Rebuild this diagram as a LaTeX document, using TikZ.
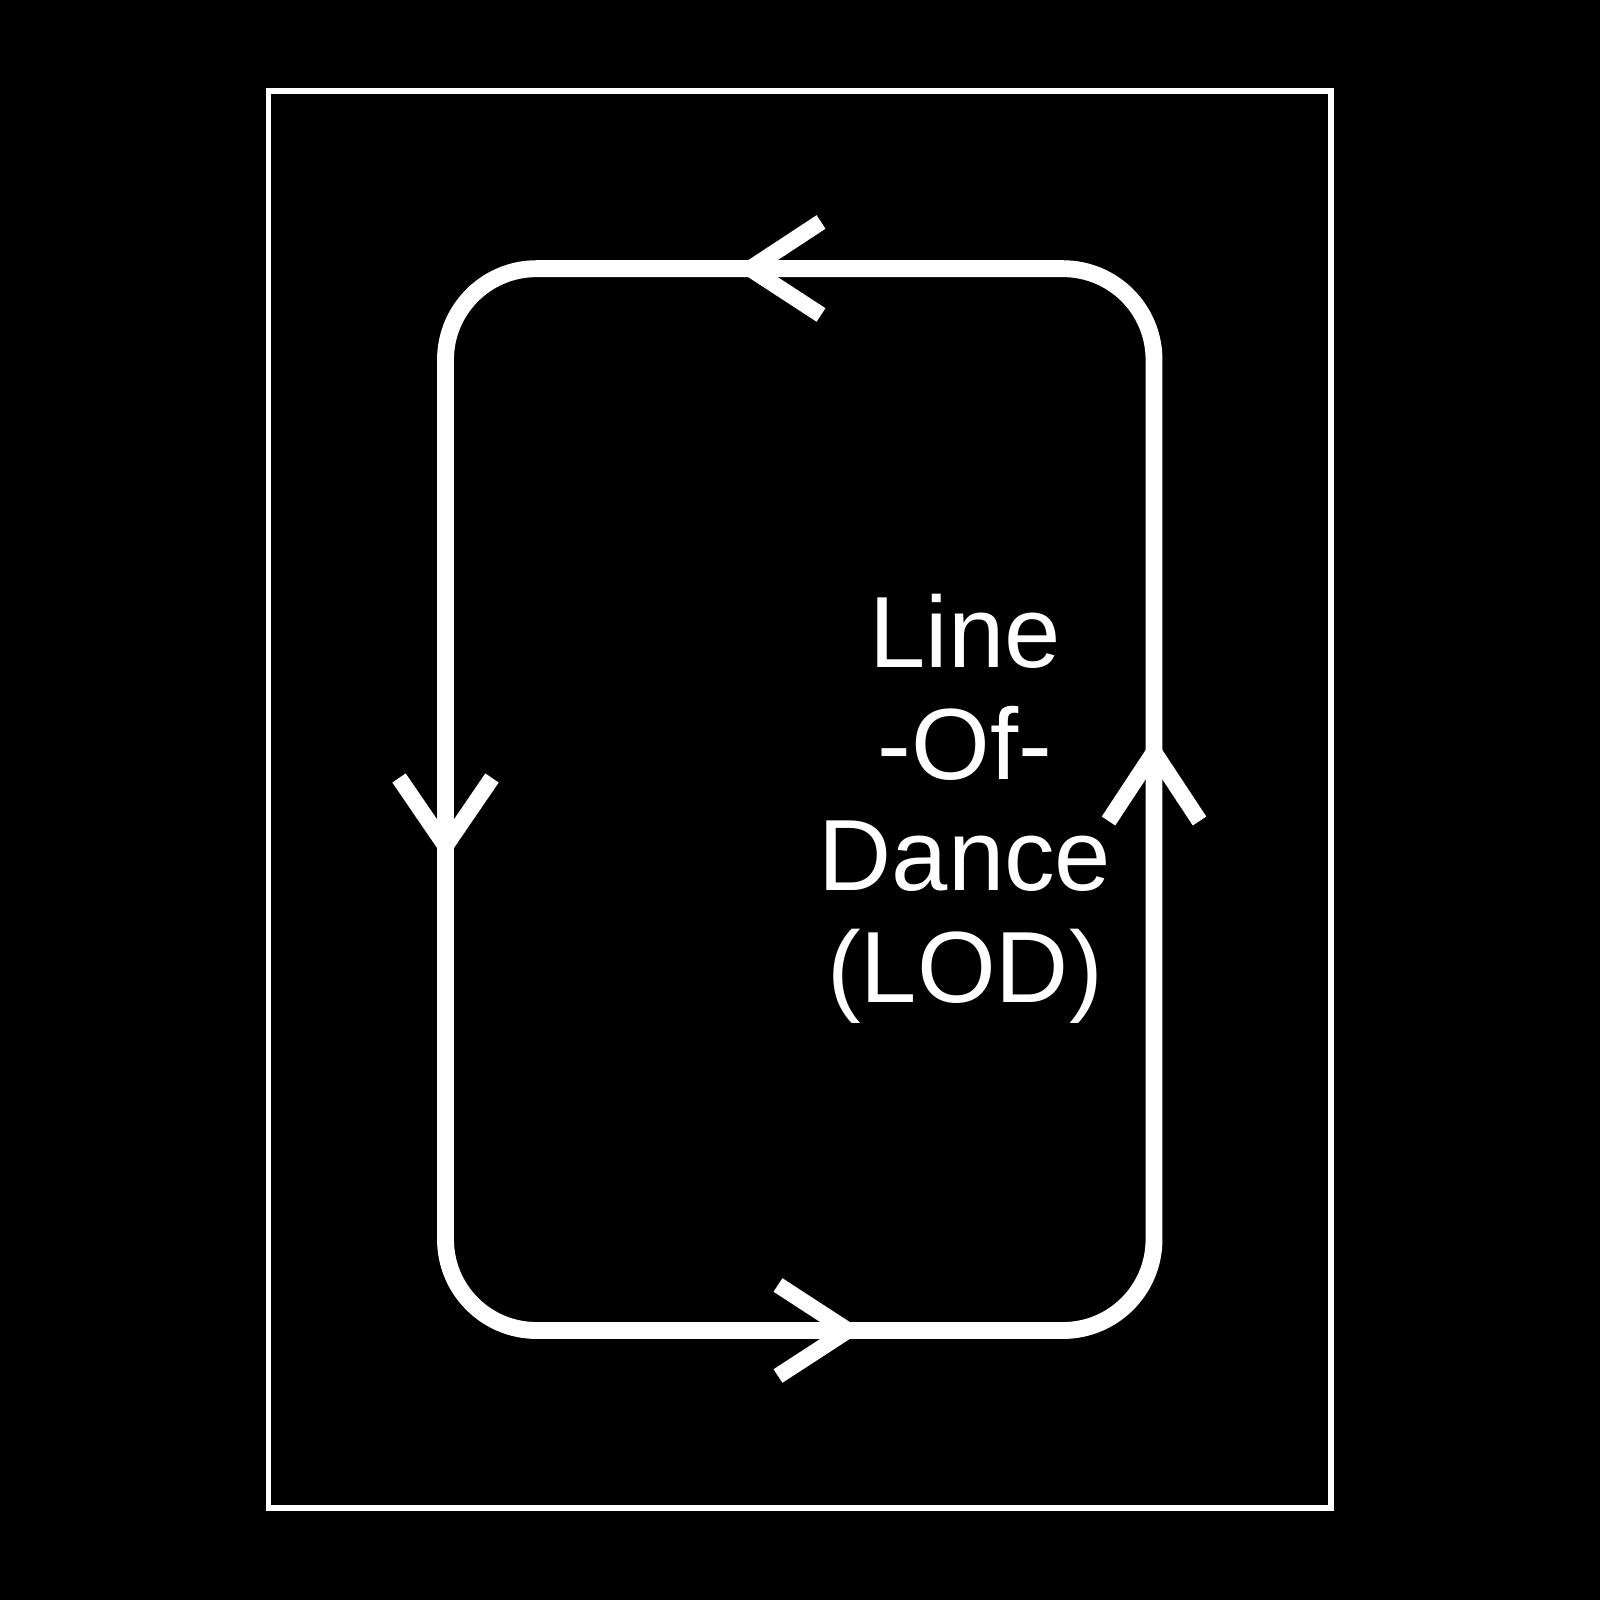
\documentclass[tikz,border=0pt]{standalone}
\usepackage{fontspec}
\setmainfont{Liberation Sans}
\begin{document}
\begin{tikzpicture}[
  frame/.style={draw=white, line width=1.65pt},
  track/.style={draw=white, line width=4.8pt},
  arrowarm/.style={draw=white, line width=4.6pt, line join=miter, miter limit=10, line cap=butt},
  label/.style={text=white, font=\fontsize{28.8pt}{31.8pt}\selectfont, align=center, anchor=base, inner sep=0pt}
]
\useasboundingbox (0,0) rectangle (16,16);
\fill[black] (0,0) rectangle (16,16);
% outer frame
\draw[frame] (2.685,0.92) rectangle (13.31,15.09);
% track
\draw[track, rounded corners=0.91cm] (4.455,2.695) rectangle (11.54,13.313);
% arrowheads
\coordinate (tv) at (7.50,13.313);
\coordinate (bv) at (8.48,2.695);
\coordinate (lv) at (4.455,7.54);
\coordinate (rv) at (11.54,8.48);
\draw[arrowarm] (8.21,13.78) -- (tv) -- (8.21,12.85);
\draw[arrowarm] (7.78,3.15) -- (bv) -- (7.78,2.24);
\draw[arrowarm] (3.99,8.22) -- (lv) -- (4.92,8.22);
\draw[arrowarm] (11.085,7.79) -- (rv) -- (11.995,7.79);
% label
\node[label] (lod) at (9.65,5.973) {Line\\-Of-\\Dance\\(LOD)};
\end{tikzpicture}
\end{document}
